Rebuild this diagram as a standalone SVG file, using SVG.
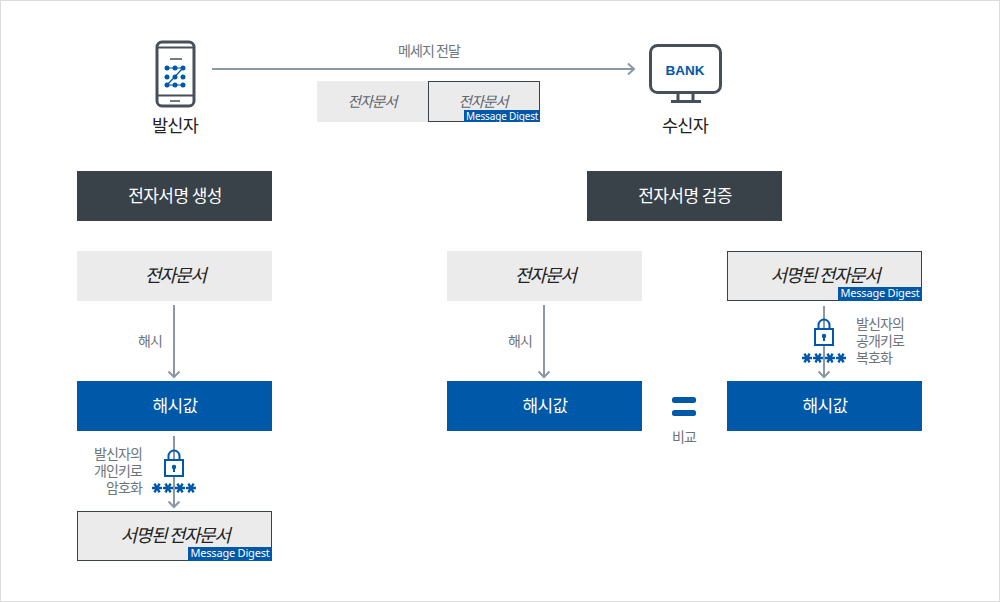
<svg xmlns="http://www.w3.org/2000/svg" width="1000" height="602" viewBox="0 0 1000 602">
<style>
text{font-family:"Noto Sans CJK KR","Noto Sans",sans-serif;letter-spacing:-.6px}
.c{text-anchor:middle}
.r{text-anchor:end}
.hd{fill:#394149}.blue{fill:#0058a8}.doc{fill:#ebebeb}
.sd{stroke:#394149;stroke-width:1}
.w{fill:#fff;font-size:17px;letter-spacing:-.6px}
.i{font-style:italic;fill:#222;font-size:18px;letter-spacing:-1.400px}
.g{fill:#6d757c;font-size:14px;letter-spacing:-.9px}
.k{fill:#222;font-size:17.500px;letter-spacing:-.8px}
.md{font-family:"Noto Sans",sans-serif;fill:#fff;font-size:11px;letter-spacing:-.2px}
.s{font-size:14.500px;font-style:italic;fill:#5f666d;letter-spacing:-1.100px}
.ln{fill:none;stroke:#8a98a6;stroke-width:2}
.ic{fill:none;stroke:#46505a;stroke-width:3}
.lock{fill:#fff;stroke:#0058a8;stroke-width:2}
</style>
<defs>
<g id="lk">
<path d="M-5.500 -7V-11a5.500 5.500 0 0 1 11 0V-7" fill="none" stroke="#0058a8" stroke-width="2"/>
<rect class="lock" x="-9" y="-7" width="18" height="16"/>
<circle cx="0" cy="0" r="2.200" fill="#0058a8"/><rect x="-1" y="0" width="2" height="5" fill="#0058a8"/>
</g>
<g id="st" fill="none" stroke="#0058a8" stroke-width="2.400">
<path d="M-5 0H5M-2.600 -4.400L2.600 4.400M2.600 -4.400L-2.600 4.400"/>
</g>
</defs>
<rect x=".5" y=".5" width="999" height="601" fill="#fff" stroke="#dcdcdc"/>
<g id="connectors">
<path class="ln" d="M212 69H634M628 63.500L634 69L628 74.500"/>
<path class="ln" d="M174 305V377M168.500 371.500L174 377L179.500 371.500"/>
<path class="ln" d="M174 436V507M168.500 501.500L174 507L179.500 501.500"/>
<path class="ln" d="M544 305V377M538.500 371.500L544 377L549.500 371.500"/>
<path class="ln" d="M824 306V377M818.500 371.500L824 377L829.500 371.500"/>
</g>
<g id="sender">
<rect class="ic" x="157" y="42" width="37" height="64" rx="5"/>
<path d="M157 47.500H194M157 95.500H194" stroke="#46505a" stroke-width="2" fill="none"/>
<path d="M170 59H182M170 101H180" stroke="#46505a" stroke-width="1.500" fill="none"/>
<path d="M167 68H183L167 85H183" fill="none" stroke="#0058a8" stroke-width="1.200"/>
<g fill="#0058a8"><circle cx="167" cy="68" r="2.500"/><circle cx="175" cy="68" r="2.500"/><circle cx="183" cy="68" r="2.500"/><circle cx="167" cy="77" r="2.500"/><circle cx="175" cy="77" r="2.500"/><circle cx="183" cy="77" r="2.500"/><circle cx="167" cy="85" r="2.500"/><circle cx="175" cy="85" r="2.500"/><circle cx="183" cy="85" r="2.500"/></g>
<text class="k c" x="175" y="132">발신자</text>
</g>
<g id="receiver">
<rect class="ic" x="650.500" y="45.500" width="70" height="47" rx="7"/>
<path d="M678 93V101M693 93V101M671 101.500H701" stroke="#46505a" stroke-width="3" fill="none"/>
<text x="685" y="75" text-anchor="middle" style="font-family:'Liberation Sans',sans-serif;font-weight:bold;font-size:13.500px;letter-spacing:0" fill="#0058a8">BANK</text>
<text class="k c" x="685" y="132">수신자</text>
</g>
<g id="message">
<text class="g c" x="429" y="56">메세지 전달</text>
<rect class="doc" x="317" y="81" width="111" height="41"/>
<text class="s c" x="372" y="107">전자문서</text>
<rect class="doc sd" x="428.500" y="81.500" width="111" height="40"/>
<text class="s c" x="483" y="107">전자문서</text>
<rect class="blue" x="464" y="110" width="76" height="12"/>
<text class="md" x="466" y="119.500" style="font-size:10px;letter-spacing:-.15px">Message Digest</text>
</g>
<g id="gen-title"><rect class="hd" x="77" y="171" width="195" height="50"/><text class="w c" x="175" y="202">전자서명 생성</text></g>
<g id="ver-title"><rect class="hd" x="587" y="171" width="195" height="50"/><text class="w c" x="685" y="202">전자서명 검증</text></g>
<g id="doc-left"><rect class="doc" x="77" y="251" width="195" height="50"/><text class="i c" x="175" y="282">전자문서</text></g>
<g id="label-hash-left"><text class="g c" x="150" y="346">해시</text></g>
<g id="hash-left"><rect class="blue" x="77" y="381" width="195" height="50"/><text class="w c" x="175" y="412">해시값</text></g>
<g id="encrypt">
<use href="#lk" x="174" y="467"/>
<text class="g r" x="142" y="459">발신자의</text>
<text class="g r" x="142" y="476">개인키로</text>
<text class="g r" x="142" y="493">암호화</text>
<use href="#st" x="157" y="488"/><use href="#st" x="168" y="488"/><use href="#st" x="180" y="488"/><use href="#st" x="191" y="488"/>
</g>
<g id="signed-left">
<rect class="doc sd" x="77.500" y="511.500" width="194" height="49"/>
<text class="i c" x="175" y="542">서명된 전자문서</text>
<rect class="blue" x="188" y="547" width="84" height="14"/>
<text class="md c" x="230" y="557">Message Digest</text>
</g>
<g id="doc-mid"><rect class="doc" x="447" y="251" width="195" height="50"/><text class="i c" x="545" y="282">전자문서</text></g>
<g id="label-hash-mid"><text class="g c" x="520" y="346">해시</text></g>
<g id="hash-mid"><rect class="blue" x="447" y="381" width="195" height="50"/><text class="w c" x="545" y="412">해시값</text></g>
<g id="equals">
<rect class="blue" x="672" y="397" width="24" height="6" rx="2.500"/>
<rect class="blue" x="672" y="410" width="24" height="6" rx="2.500"/>
<text class="g c" x="684" y="442">비교</text>
</g>
<g id="signed-right">
<rect class="doc sd" x="727.500" y="251.500" width="194" height="49"/>
<text class="i c" x="825" y="282">서명된 전자문서</text>
<rect class="blue" x="838" y="287" width="84" height="14"/>
<text class="md c" x="880" y="297">Message Digest</text>
</g>
<g id="decrypt">
<use href="#lk" x="824" y="336"/>
<text class="g" x="856" y="329">발신자의</text>
<text class="g" x="856" y="346">공개키로</text>
<text class="g" x="856" y="363">복호화</text>
<use href="#st" x="807" y="358"/><use href="#st" x="818" y="358"/><use href="#st" x="830" y="358"/><use href="#st" x="841" y="358"/>
</g>
<g id="hash-right"><rect class="blue" x="727" y="381" width="195" height="50"/><text class="w c" x="825" y="412">해시값</text></g>
</svg>
